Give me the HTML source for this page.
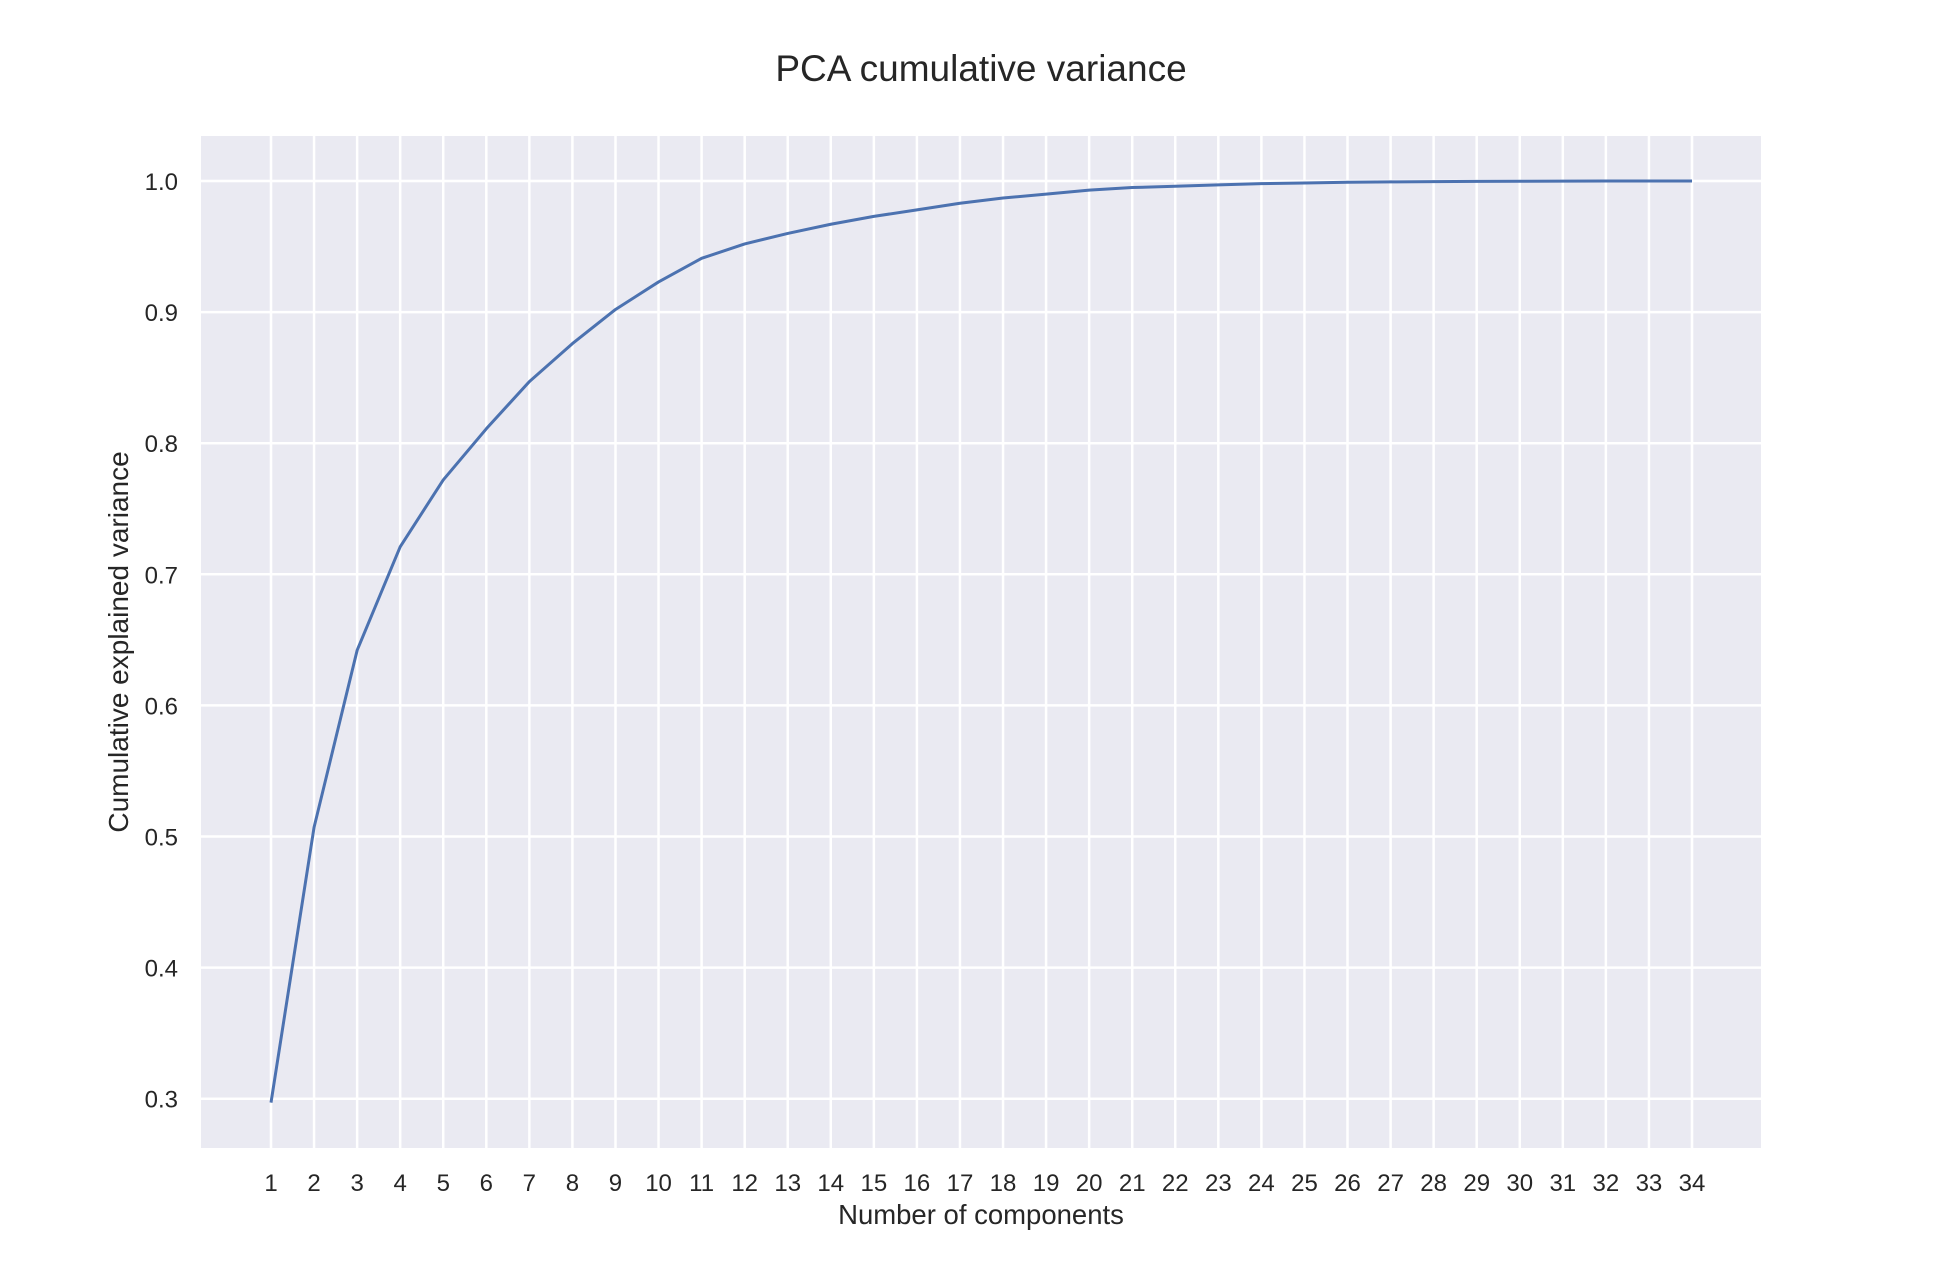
<!DOCTYPE html>
<html><head><meta charset="utf-8"><style>
body{margin:0;background:#fff;}
svg text{font-family:"Liberation Sans",Arial,sans-serif;fill:#262626;}
</style></head><body>
<svg id="chart" width="1934" height="1280" xmlns="http://www.w3.org/2000/svg">
<text x="981" y="81" font-size="37" text-anchor="middle">PCA cumulative variance</text>
<rect x="201" y="136" width="1560" height="1012" fill="#eaeaf2"/>
<g id="grid"></g>
<g id="ticks"></g>
<path id="line" fill="none" stroke="#4c72b0" stroke-width="3" stroke-linejoin="round"/>
<text x="981" y="1224" font-size="27.5" text-anchor="middle">Number of components</text>
<text x="0" y="0" font-size="28" text-anchor="middle" transform="translate(128,642) rotate(-90)">Cumulative explained variance</text>
</svg>
<script>
const components = Array.from({length:34},(_,i)=>i+1);
const cumVariance = [0.297,0.507,0.642,0.721,0.772,0.811,0.847,0.876,0.902,0.923,0.941,0.952,0.960,0.967,0.973,0.978,0.983,0.987,0.990,0.993,0.995,0.996,0.997,0.998,0.9985,0.999,0.9993,0.9995,0.9997,0.9998,0.9999,1.0,1.0,1.0];
const yTicks = [0.3,0.4,0.5,0.6,0.7,0.8,0.9,1.0];
const yTickLabels = ["0.3","0.4","0.5","0.6","0.7","0.8","0.9","1.0"];

const NS="http://www.w3.org/2000/svg";
const X0=201,X1=1761,Y0=136,Y1=1148;
function xs(v){return 271+(v-1)*(1692-271)/33;}
function ys(v){return 181+(1.0-v)*1311;}
const grid=document.getElementById('grid'),ticks=document.getElementById('ticks');
components.forEach(c=>{
  const l=document.createElementNS(NS,'line');
  l.setAttribute('x1',xs(c));l.setAttribute('x2',xs(c));l.setAttribute('y1',Y0);l.setAttribute('y2',Y1);
  l.setAttribute('stroke','#fff');l.setAttribute('stroke-width','2.5');
  
  
  grid.appendChild(l);
  const t=document.createElementNS(NS,'text');
  t.setAttribute('x',xs(c));t.setAttribute('y',1191);t.setAttribute('font-size','24');t.setAttribute('text-anchor','middle');
  t.textContent=c;
  
  
  ticks.appendChild(t);
});
yTicks.forEach((v,i)=>{
  const l=document.createElementNS(NS,'line');
  l.setAttribute('x1',X0);l.setAttribute('x2',X1);l.setAttribute('y1',ys(v));l.setAttribute('y2',ys(v));
  l.setAttribute('stroke','#fff');l.setAttribute('stroke-width','2.5');
  
  
  grid.appendChild(l);
  const t=document.createElementNS(NS,'text');
  t.setAttribute('x',178);t.setAttribute('y',ys(v)+9);t.setAttribute('font-size','24');t.setAttribute('text-anchor','end');
  t.textContent=yTickLabels[i];
  
  
  ticks.appendChild(t);
});
document.getElementById('line').setAttribute('d',components.map((c,i)=>(i?'L':'M')+xs(c)+' '+ys(cumVariance[i])).join(' '));
</script>
</body></html>
